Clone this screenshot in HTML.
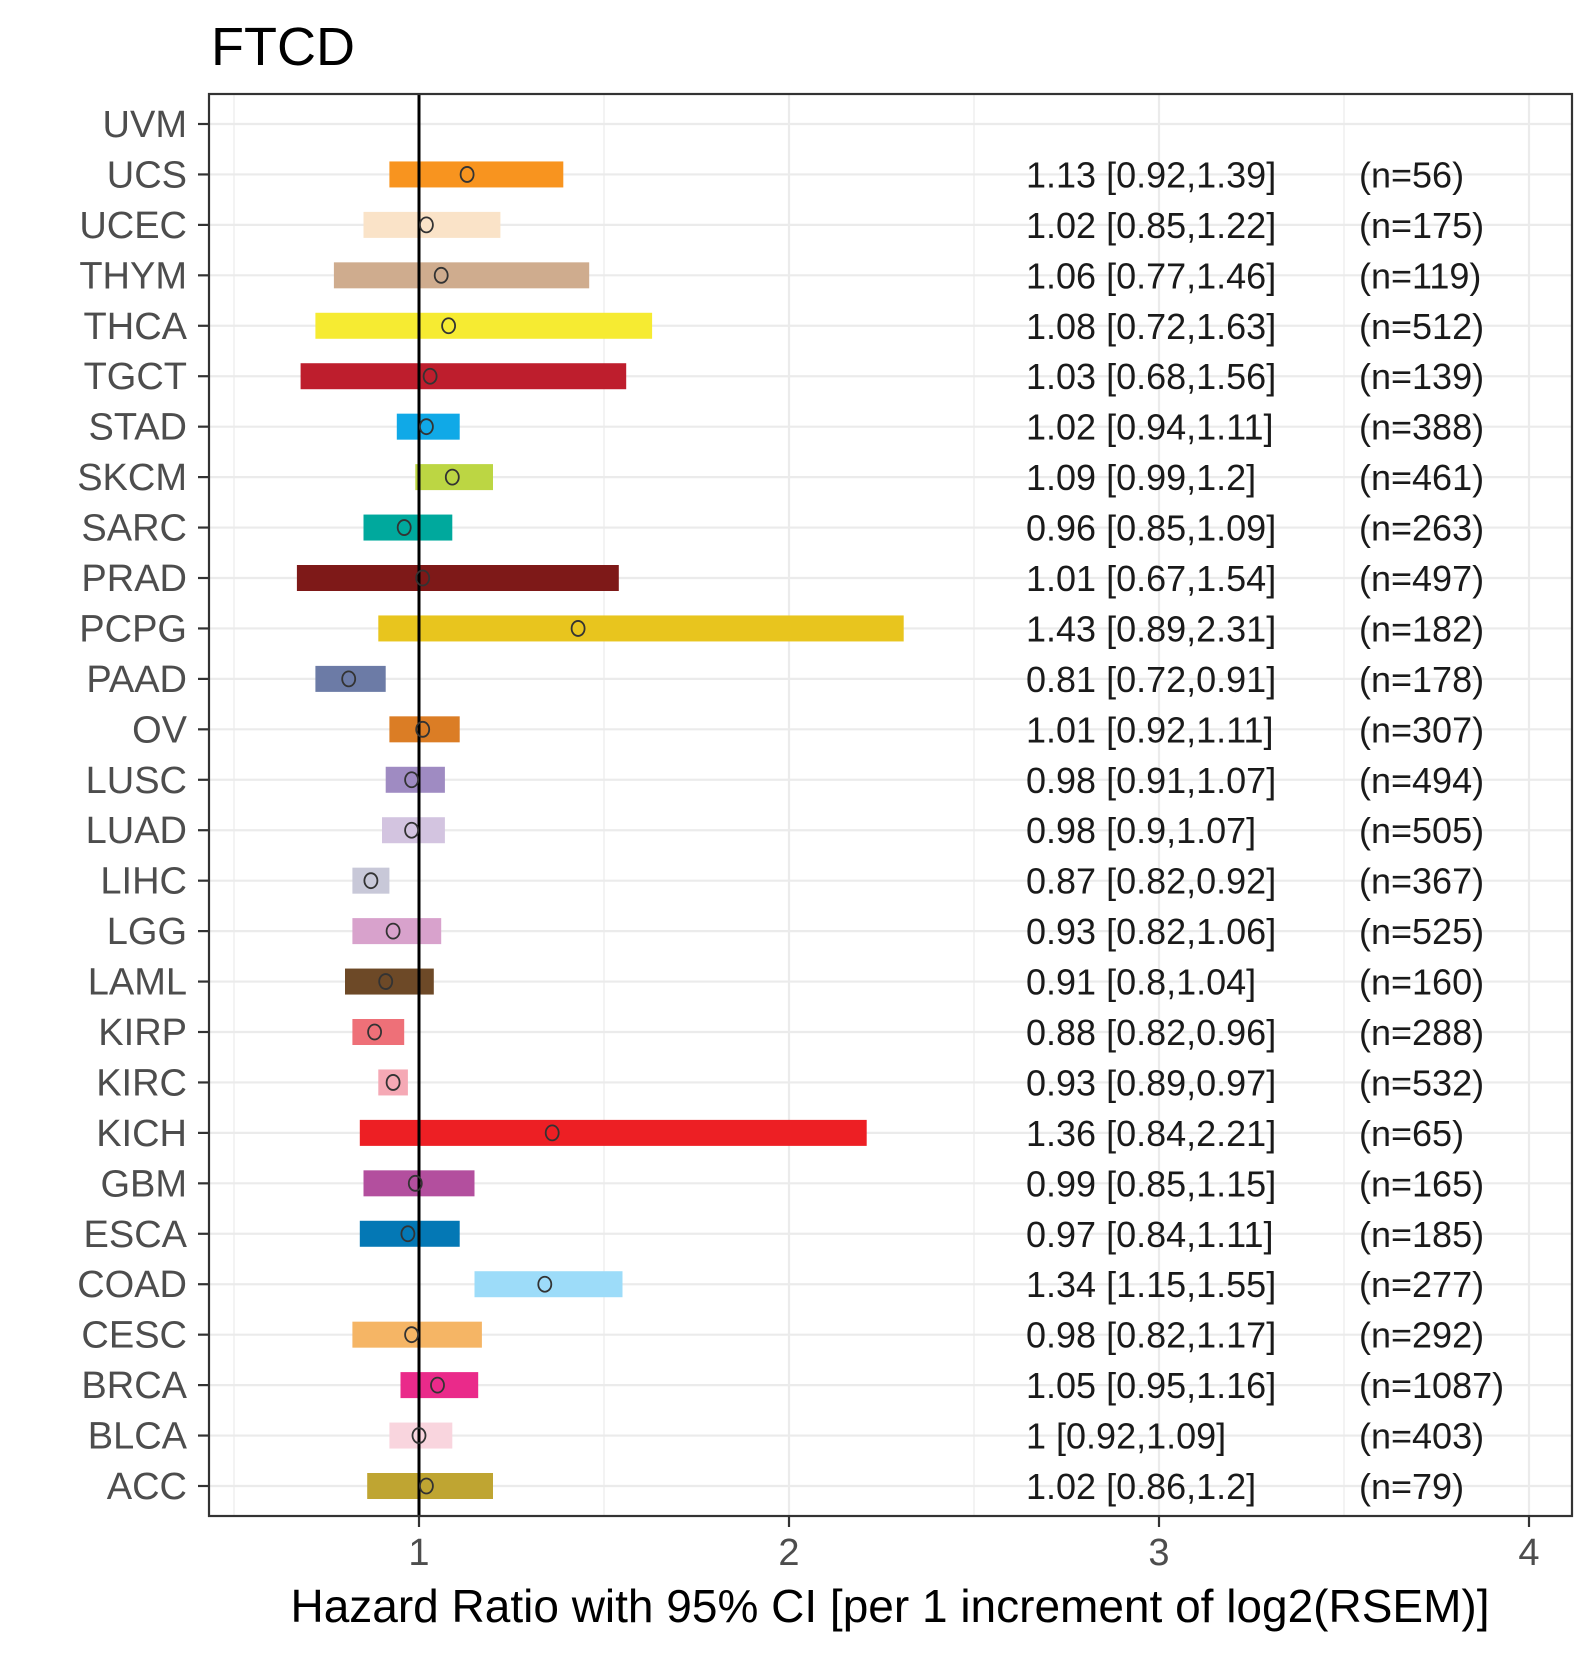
<!DOCTYPE html>
<html><head><meta charset="utf-8"><style>
body{margin:0;background:#fff}
svg text{font-family:"Liberation Sans",sans-serif}
</style></head><body>
<svg id="chart" width="1590" height="1650" xmlns="http://www.w3.org/2000/svg">
<text x="211" y="65" font-size="54" fill="#000">FTCD</text>
<g id="plot"></g>
</svg>
<script>
const cancers=["UVM","UCS","UCEC","THYM","THCA","TGCT","STAD","SKCM","SARC","PRAD","PCPG","PAAD","OV","LUSC","LUAD","LIHC","LGG","LAML","KIRP","KIRC","KICH","GBM","ESCA","COAD","CESC","BRCA","BLCA","ACC"];
const hr=[null,1.13,1.02,1.06,1.08,1.03,1.02,1.09,0.96,1.01,1.43,0.81,1.01,0.98,0.98,0.87,0.93,0.91,0.88,0.93,1.36,0.99,0.97,1.34,0.98,1.05,1,1.02];
const lo=[null,0.92,0.85,0.77,0.72,0.68,0.94,0.99,0.85,0.67,0.89,0.72,0.92,0.91,0.9,0.82,0.82,0.8,0.82,0.89,0.84,0.85,0.84,1.15,0.82,0.95,0.92,0.86];
const hi=[null,1.39,1.22,1.46,1.63,1.56,1.11,1.2,1.09,1.54,2.31,0.91,1.11,1.07,1.07,0.92,1.06,1.04,0.96,0.97,2.21,1.15,1.11,1.55,1.17,1.16,1.09,1.2];
const labels=[null,"1.13 [0.92,1.39]","1.02 [0.85,1.22]","1.06 [0.77,1.46]","1.08 [0.72,1.63]","1.03 [0.68,1.56]","1.02 [0.94,1.11]","1.09 [0.99,1.2]","0.96 [0.85,1.09]","1.01 [0.67,1.54]","1.43 [0.89,2.31]","0.81 [0.72,0.91]","1.01 [0.92,1.11]","0.98 [0.91,1.07]","0.98 [0.9,1.07]","0.87 [0.82,0.92]","0.93 [0.82,1.06]","0.91 [0.8,1.04]","0.88 [0.82,0.96]","0.93 [0.89,0.97]","1.36 [0.84,2.21]","0.99 [0.85,1.15]","0.97 [0.84,1.11]","1.34 [1.15,1.55]","0.98 [0.82,1.17]","1.05 [0.95,1.16]","1 [0.92,1.09]","1.02 [0.86,1.2]"];
const ns=[null,56,175,119,512,139,388,461,263,497,182,178,307,494,505,367,525,160,288,532,65,165,185,277,292,1087,403,79];
const colors=[null,"#F8941F","#FAE3C8","#CFAC8E","#F6EB32","#BE1E2D","#10A9E7","#BCD643","#00A99D","#7E1918","#E8C51E","#6C7BA6","#DB7D25","#9F8BC2","#D3C4E0","#C8C8D8","#D8A2CC","#6D4927","#EE7078","#F5A9B5","#ED1F24","#B34F9E","#0478B5","#9DDCF9","#F5B565","#EA2A8A","#F9D5DE","#BFA532"];
const xTicks=[1,2,3,4];

const NS="http://www.w3.org/2000/svg";
const L=209,R=1572,T=94,B=1516;
const X=v=>419+(v-1)*370;
const Y=i=>124+i*((1486-124)/27);
const g=document.getElementById('plot');
function mk(tag,attrs,parent){const e=document.createElementNS(NS,tag);for(const k in attrs)e.setAttribute(k,attrs[k]);(parent||g).appendChild(e);return e;}

for(let v=0.5;v<=4.1;v+=0.5){
  const gl=mk('line',{x1:X(v),x2:X(v),y1:T,y2:B,stroke:'#ebebeb','stroke-width':(v%1===0)?2.2:1.2});
  
  
}
cancers.forEach((c,i)=>{
  const gl=mk('line',{x1:L,x2:R,y1:Y(i),y2:Y(i),stroke:'#ebebeb','stroke-width':2.2});
  
  
});
cancers.forEach((c,i)=>{
  if(hr[i]!==null){
    const b=mk('rect',{x:X(lo[i]),y:Y(i)-13,width:X(hi[i])-X(lo[i]),height:26,fill:colors[i]});
    
    
  }
});
const vl=mk('line',{x1:X(1),x2:X(1),y1:T,y2:B,stroke:'#000','stroke-width':3});


cancers.forEach((c,i)=>{
  if(hr[i]!==null){
    const p=mk('ellipse',{cx:X(hr[i]),cy:Y(i),rx:6.5,ry:7.5,fill:'none',stroke:'#333','stroke-width':1.8});
    
    
    const t=mk('text',{x:1026,y:Y(i)+13,'font-size':36,fill:'#1a1a1a'});
    t.textContent=labels[i];
    
    
    const n=mk('text',{x:1359,y:Y(i)+13,'font-size':36,fill:'#1a1a1a'});
    n.textContent='(n='+ns[i]+')';
    
    
  }
  const yl=mk('text',{x:187,y:Y(i)+13,'font-size':38,fill:'#4d4d4d','text-anchor':'end'});
  yl.textContent=c;
  
  
  const tk=mk('line',{x1:198,x2:L,y1:Y(i),y2:Y(i),stroke:'#333','stroke-width':2.2});
  
  
});
xTicks.forEach(v=>{
  const tk=mk('line',{x1:X(v),x2:X(v),y1:B,y2:B+11,stroke:'#333','stroke-width':2.2});
  
  
  const t=mk('text',{x:X(v),y:1565,'font-size':38,fill:'#4d4d4d','text-anchor':'middle'});
  t.textContent=v;
  
  
});
const fr=mk('rect',{x:L,y:T,width:R-L,height:B-T,fill:'none',stroke:'#333','stroke-width':2.2});


const xt=mk('text',{x:890,y:1622,'font-size':46,fill:'#000','text-anchor':'middle'});
xt.textContent='Hazard Ratio with 95% CI [per 1 increment of log2(RSEM)]';


</script>
</body></html>
